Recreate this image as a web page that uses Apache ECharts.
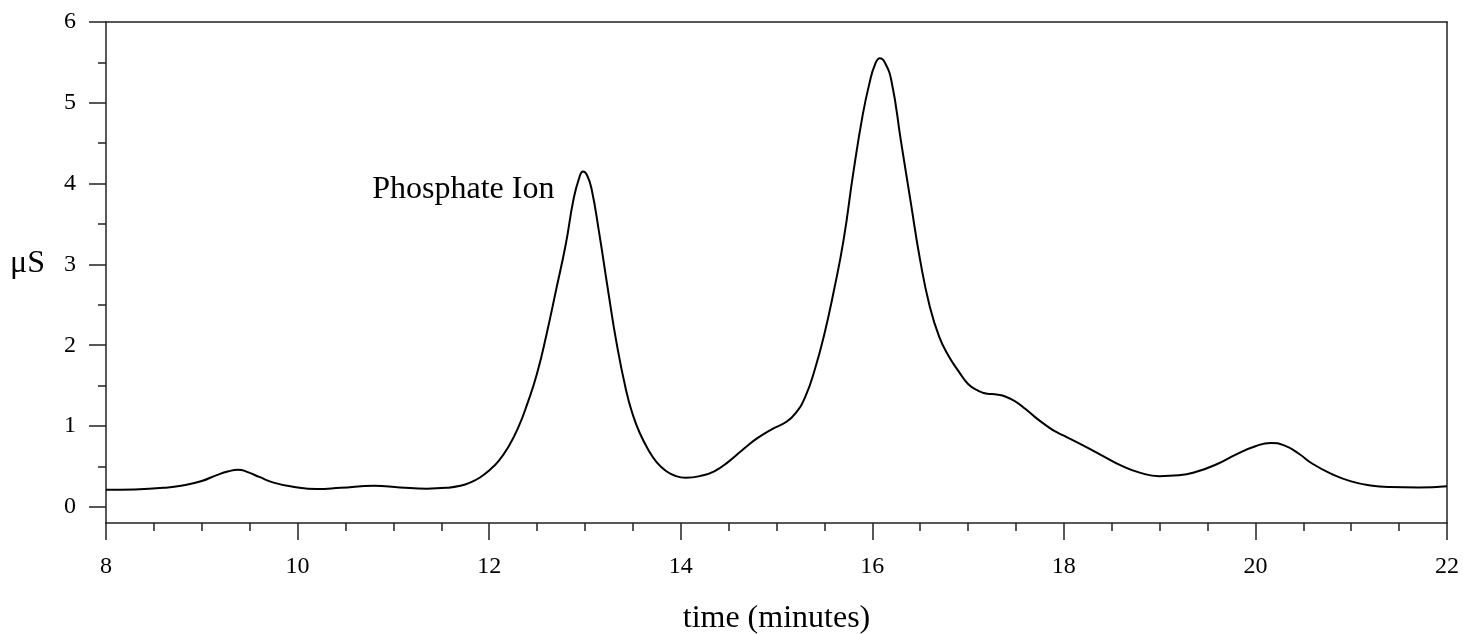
<!DOCTYPE html>
<html>
<head>
<meta charset="utf-8">
<script src="https://cdn.jsdelivr.net/npm/echarts@6/dist/echarts.min.js"></script>
<style>
html,body{margin:0;padding:0;background:#fff;}
#chart{width:1463px;height:634px;}
</style>
</head>
<body>
<div id="chart"></div>
<script>
// time in minutes
const times = [8.0,8.3,8.6,8.8,9.0,9.15,9.28,9.38,9.48,9.6,9.75,9.95,10.2,10.45,10.8,11.07,11.35,11.55,11.7,11.8,11.9,12.0,12.1,12.2,12.3,12.4,12.5,12.6,12.7,12.8,12.88,12.94,12.98,13.02,13.07,13.15,13.24,13.33,13.43,13.5,13.57,13.66,13.75,13.85,13.95,14.05,14.2,14.35,14.5,14.65,14.8,14.95,15.1,15.2,15.3,15.4,15.5,15.6,15.7,15.8,15.9,15.97,16.03,16.08,16.13,16.2,16.3,16.4,16.5,16.6,16.7,16.8,16.9,17.0,17.1,17.2,17.3,17.4,17.5,17.6,17.7,17.8,17.9,18.0,18.2,18.4,18.6,18.8,19.0,19.2,19.4,19.6,19.8,20.0,20.16,20.3,20.45,20.6,20.8,21.0,21.2,21.4,21.7,22.0];
// conductivity in microsiemens
const conductivity = [0.21,0.215,0.235,0.265,0.32,0.39,0.44,0.46,0.43,0.37,0.30,0.25,0.22,0.235,0.26,0.24,0.225,0.235,0.26,0.30,0.36,0.45,0.57,0.74,0.97,1.28,1.65,2.14,2.69,3.25,3.80,4.07,4.15,4.11,3.93,3.38,2.69,2.03,1.44,1.14,0.92,0.71,0.55,0.44,0.38,0.36,0.38,0.44,0.56,0.71,0.85,0.96,1.05,1.16,1.36,1.70,2.14,2.68,3.30,4.12,4.85,5.24,5.48,5.55,5.50,5.27,4.52,3.78,3.05,2.48,2.10,1.86,1.68,1.52,1.44,1.40,1.39,1.36,1.30,1.21,1.11,1.02,0.94,0.88,0.76,0.635,0.51,0.42,0.38,0.39,0.44,0.53,0.65,0.75,0.79,0.76,0.66,0.53,0.405,0.315,0.265,0.245,0.24,0.255];
const yMajorTicks = [0,1,2,3,4,5,6];
const yMinorTicks = [0.5,1.5,2.5,3.5,4.5,5.5];
const annotationText = 'Phosphate Ion';
const annotationAt = [11.73, 3.93];

const FONT = "'Liberation Serif', 'Times New Roman', serif";
const AX = '#222';
const chart = echarts.init(document.getElementById('chart'));
const yBase = {type:'value', min:-0.2, max:6, splitLine:{show:false}};
chart.setOption({
  animation:false,
  backgroundColor:'#fff',
  grid:{left:106, right:16, top:22, bottom:111, containLabel:false, outerBoundsMode:'none'},
  xAxis:[{
    type:'value', min:8, max:22, interval:2, position:'bottom',
    axisLine:{show:true, onZero:false, lineStyle:{color:AX, width:1.5}},
    axisTick:{show:true, length:17, lineStyle:{color:AX, width:1.5}},
    minorTick:{show:true, splitNumber:4, length:8, lineStyle:{color:AX, width:1.5}},
    axisLabel:{fontFamily:FONT, fontSize:24, color:'#000', margin:32},
    splitLine:{show:false},
    name:'time (minutes)', nameLocation:'middle', nameGap:80,
    nameTextStyle:{fontFamily:FONT, fontSize:32, color:'#000'}
  },{
    type:'value', min:8, max:22, position:'top',
    axisLine:{show:true, onZero:false, lineStyle:{color:AX, width:1.5}},
    axisTick:{show:false}, axisLabel:{show:false}, splitLine:{show:false}
  }],
  yAxis:[Object.assign({}, yBase, {
    position:'left',
    axisLine:{show:true, onZero:false, lineStyle:{color:AX, width:1.5}},
    axisTick:{show:true, length:17, customValues:yMajorTicks, lineStyle:{color:AX, width:1.5}},
    axisLabel:{show:true, customValues:yMajorTicks, fontFamily:FONT, fontSize:24, color:'#000', margin:30}
  }), Object.assign({}, yBase, {
    position:'left',
    axisLine:{show:false, onZero:false},
    axisTick:{show:true, length:8, customValues:yMinorTicks, lineStyle:{color:AX, width:1.5}},
    axisLabel:{show:false}
  }), Object.assign({}, yBase, {
    position:'right',
    axisLine:{show:true, onZero:false, lineStyle:{color:AX, width:1.5}},
    axisTick:{show:false}, axisLabel:{show:false}
  })],
  graphic:[{
    type:'text', left:10, top:248,
    style:{text:'μS', font:"32px " + FONT, fill:'#000'}
  }],
  series:[{
    type:'line', xAxisIndex:0, yAxisIndex:0,
    data: times.map((t,i)=>[t, conductivity[i]]),
    smooth:0.5,
    showSymbol:false, symbol:'none',
    lineStyle:{color:'#000', width:2},
    markPoint:{
      symbol:'circle', symbolSize:1, itemStyle:{color:'rgba(0,0,0,0)'},
      label:{show:true, position:'inside', formatter:annotationText, fontFamily:FONT, fontSize:32, color:'#000'},
      data:[{coord:annotationAt}]
    }
  }]
});
</script>
</body>
</html>
